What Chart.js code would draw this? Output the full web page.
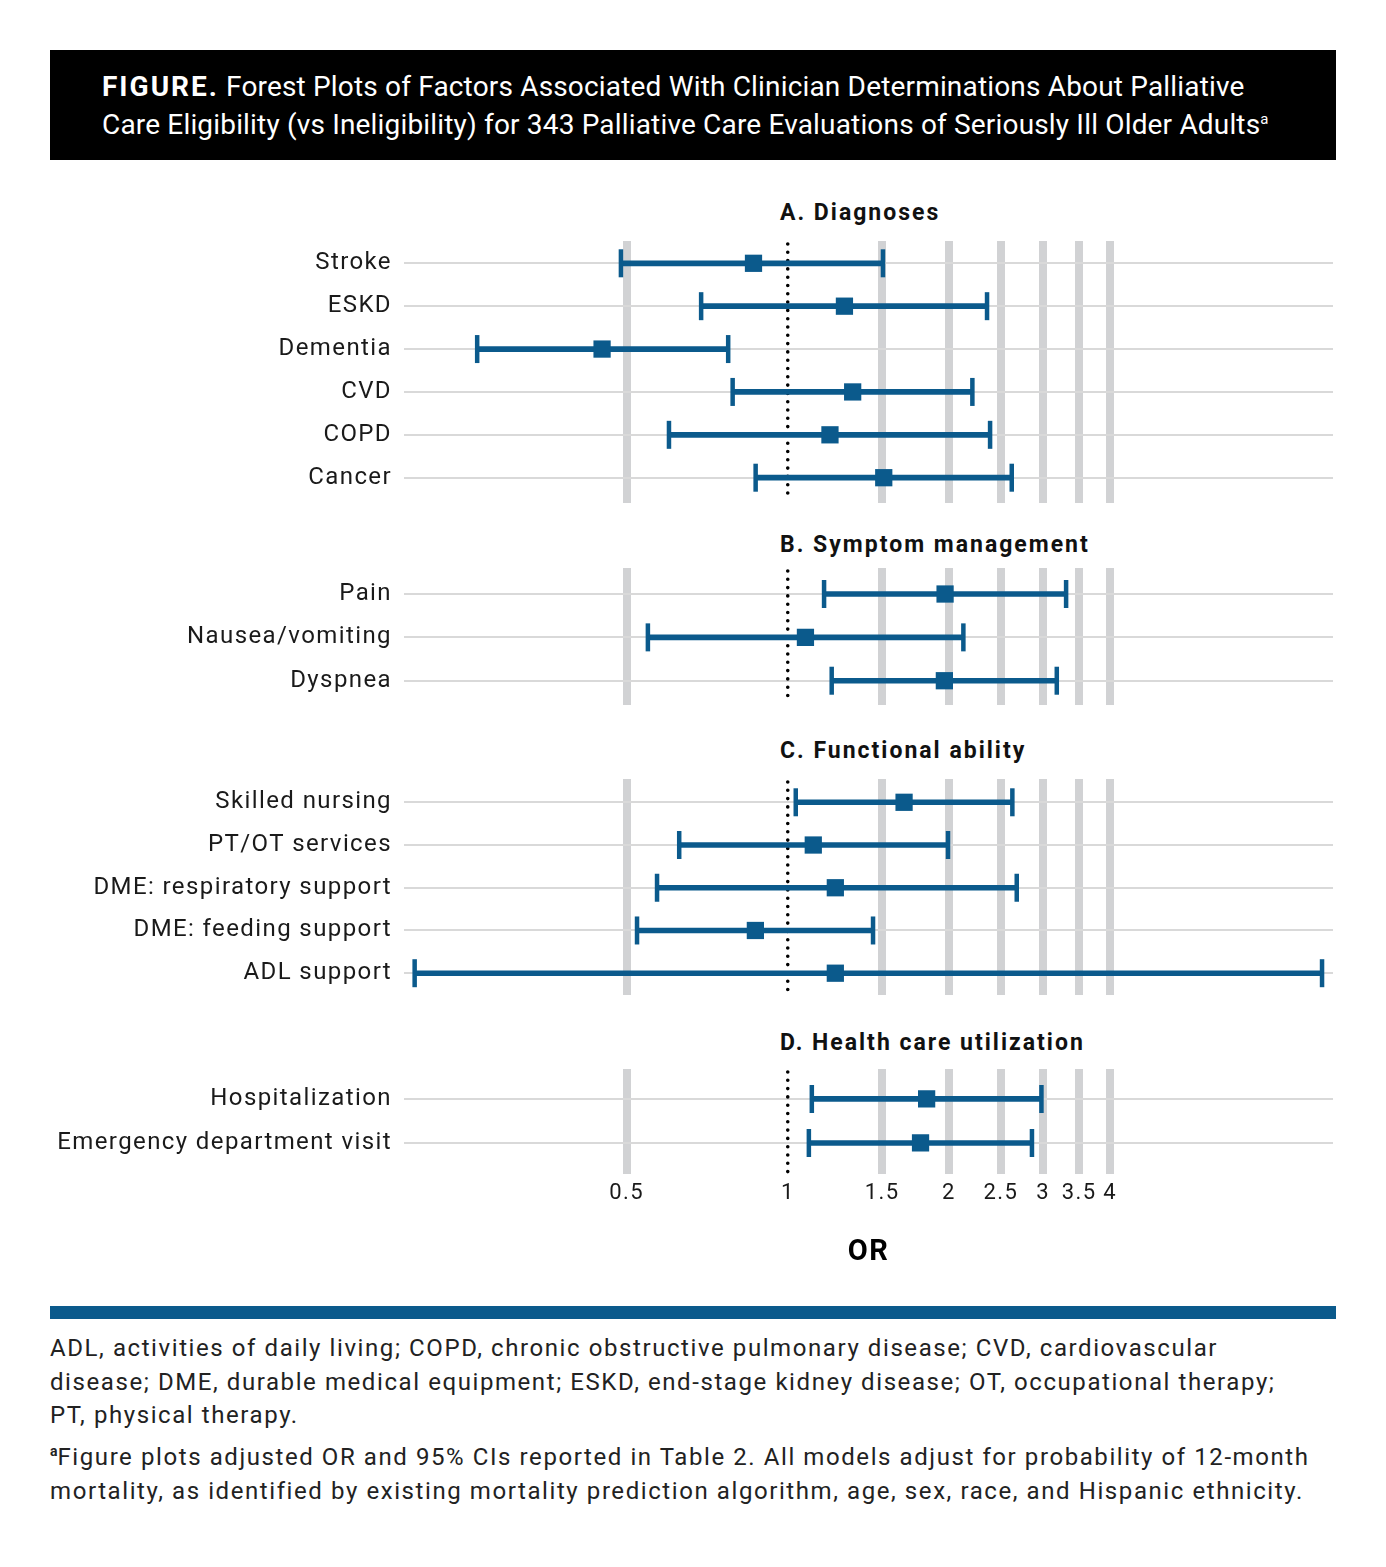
<!DOCTYPE html>
<html lang="en">
<head>
<meta charset="UTF-8">
<title>Forest plots - palliative care eligibility</title>
<script src="https://cdn.jsdelivr.net/npm/chart.js@4.4.4/dist/chart.umd.min.js"></script>
<style>
  body { margin: 0; background: #fff; font-family: Roboto, 'DejaVu Sans', sans-serif; color: #1a1a1a; }
  #page { position: relative; width: 1386px; height: 1567px; overflow: hidden; }
  .header { position: absolute; left: 50px; top: 50px; width: 1286px; height: 110px; background: #000; color: #fff; }
  .header p { margin: 0; position: absolute; left: 52px; font-size: 28px; line-height: 38px; letter-spacing: 0.17px; white-space: nowrap; }
  .header b { letter-spacing: 2px; }
  .header sup { font-size: 15px; vertical-align: 10px; line-height: 0; }
  .panel-title { position: absolute; left: 780px; font-weight: 700; font-size: 23px; line-height: 28px; letter-spacing: 2px; color: #111; }
  .plot { position: absolute; left: 50px; width: 1286px; }
  .rule { position: absolute; left: 50px; top: 1306px; width: 1286px; height: 13px; background: #0b5a8c; }
  .notes { position: absolute; left: 50px; font-size: 24px; line-height: 33.5px; letter-spacing: 1.58px; white-space: nowrap; color: #222; }
  .notes sup { font-size: 14px; vertical-align: 9px; line-height: 0; font-weight: 700; letter-spacing: 0; }
</style>
</head>
<body>
<div id="page">
  <div class="header">
    <p style="top:18px"><b>FIGURE.</b> Forest Plots of Factors Associated With Clinician Determinations About Palliative</p>
    <p style="top:56px">Care Eligibility (vs Ineligibility) for 343 Palliative Care Evaluations of Seriously Ill Older Adults<sup>a</sup></p>
  </div>

  <div class="panel-title" style="top:199px">A. Diagnoses</div>
  <div class="plot" style="top:241px;height:262px"><canvas id="chartA"></canvas></div>

  <div class="panel-title" style="top:531px">B. Symptom management</div>
  <div class="plot" style="top:568px;height:137px"><canvas id="chartB"></canvas></div>

  <div class="panel-title" style="top:737px">C. Functional ability</div>
  <div class="plot" style="top:779px;height:216px"><canvas id="chartC"></canvas></div>

  <div class="panel-title" style="top:1029px">D. Health care utilization</div>
  <div class="plot" style="top:1069px;height:201px"><canvas id="chartD"></canvas></div>

  <div class="rule"></div>
  <div class="notes" style="top:1332px">ADL, activities of daily living; COPD, chronic obstructive pulmonary disease; CVD, cardiovascular<br>disease; DME, durable medical equipment; ESKD, end-stage kidney disease; OT, occupational therapy;<br>PT, physical therapy.</div>
  <div class="notes" style="top:1441px"><sup>a</sup>Figure plots adjusted OR and 95% CIs reported in Table 2. All models adjust for probability of 12-month<br>mortality, as identified by existing mortality prediction algorithm, age, sex, race, and Hispanic ethnicity.</div>
</div>

<script>
  const tickValues = [0.5, 1, 1.5, 2, 2.5, 3, 3.5, 4];

  // A. Diagnoses
  const diagLabels = ['Stroke', 'ESKD', 'Dementia', 'CVD', 'COPD', 'Cancer'];
  const diagOR = [0.863, 1.276, 0.450, 1.322, 1.199, 1.511];
  const diagLow = [0.488, 0.689, 0.263, 0.789, 0.600, 0.871];
  const diagHigh = [1.506, 2.356, 0.774, 2.212, 2.387, 2.620];

  // B. Symptom management
  const symLabels = ['Pain', 'Nausea/vomiting', 'Dyspnea'];
  const symOR = [1.967, 1.079, 1.961];
  const symLow = [1.169, 0.548, 1.208];
  const symHigh = [3.31, 2.128, 3.18];

  // C. Functional ability
  const funcLabels = ['Skilled nursing', 'PT/OT services', 'DME: respiratory support', 'DME: feeding support', 'ADL support'];
  const funcOR = [1.649, 1.116, 1.227, 0.870, 1.227];
  const funcLow = [1.035, 0.627, 0.570, 0.523, 0.201];
  const funcHigh = [2.627, 1.992, 2.677, 1.443, 9.95];

  // D. Health care utilization
  const utilLabels = ['Hospitalization', 'Emergency department visit'];
  const utilOR = [1.817, 1.770];
  const utilLow = [1.109, 1.095];
  const utilHigh = [2.977, 2.858];

  const BLUE = '#0b5a8c';
  const BAR_GRAY = '#d1d2d4';
  const FONT = 'Roboto, "DejaVu Sans", sans-serif';

  // dotted reference line at OR = 1, under the CIs
  const refLine = {
    id: 'refLine',
    beforeDatasetsDraw(chart) {
      const { ctx, chartArea, scales } = chart;
      const x = scales.x.getPixelForValue(1);
      ctx.save();
      ctx.strokeStyle = '#000';
      ctx.lineWidth = 3.6;
      ctx.lineCap = 'round';
      ctx.setLineDash([0, 8.3]);
      ctx.beginPath();
      ctx.moveTo(x, chartArea.top + 3);
      ctx.lineTo(x, chartArea.bottom - 2);
      ctx.stroke();
      ctx.restore();
    }
  };

  // a little tracking on canvas text, like the original typeface
  const tracking = {
    id: 'tracking',
    beforeUpdate(chart) { chart.ctx.letterSpacing = '1.4px'; },
    beforeDraw(chart) { chart.ctx.letterSpacing = '1.4px'; }
  };

  function forest(id, labels, or, low, high, padTop, padBottom, showAxis) {
    const rows = labels.map((_, i) => i);
    return new Chart(document.getElementById(id), {
      type: 'bar',
      data: {
        datasets: [
          {
            type: 'scatter',
            data: rows.map(i => ({ x: or[i], y: i })),
            pointStyle: 'rect',
            pointRadius: 12.2,
            pointBackgroundColor: BLUE,
            pointBorderWidth: 0,
            order: 0
          },
          {
            type: 'scatter',
            data: rows.flatMap(i => [{ x: low[i], y: i }, { x: high[i], y: i }]),
            pointStyle: 'line',
            pointRotation: 90,
            pointRadius: 14,
            pointBorderColor: BLUE,
            pointBorderWidth: 4.5,
            order: 1
          },
          {
            data: rows.map(i => ({ x: [low[i], high[i]], y: i })),
            backgroundColor: BLUE,
            borderWidth: 0,
            barThickness: 5,
            order: 2
          }
        ]
      },
      options: {
        indexAxis: 'y',
        responsive: true,
        maintainAspectRatio: false,
        animation: false,
        events: [],
        layout: { autoPadding: false, padding: { left: 0, right: 3, top: 0, bottom: 0 } },
        plugins: { legend: { display: false }, tooltip: { enabled: false } },
        scales: {
          x: {
            type: 'logarithmic',
            min: 0.192,
            max: 10.43,
            bounds: 'data',
            offset: false,
            afterBuildTicks: s => { s.ticks = tickValues.map(v => ({ value: v })); },
            grid: {
              color: c => (c.tick && c.tick.value === 1) ? 'rgba(0,0,0,0)' : BAR_GRAY,
              lineWidth: 8,
              drawTicks: false,
              offset: false
            },
            border: { display: false },
            ticks: {
              display: showAxis,
              autoSkip: false,
              maxRotation: 0,
              padding: 6,
              color: '#1a1a1a',
              font: { family: FONT, size: 22 },
              callback: v => String(v)
            },
            title: {
              display: showAxis,
              text: 'OR',
              color: '#000',
              font: { family: FONT, size: 29, weight: 'bold' },
              padding: { top: 23, bottom: 0 }
            }
          },
          y: {
            type: 'linear',
            reverse: true,
            min: -padTop,
            max: labels.length - 1 + padBottom,
            bounds: 'data',
            offset: false,
            afterBuildTicks: s => { s.ticks = rows.map(v => ({ value: v })); },
            afterFit: s => { s.width = 354; s.paddingTop = 0; s.paddingBottom = 0; },
            grid: { color: '#d9d9d9', lineWidth: 2, drawTicks: false, offset: false },
            border: { display: false },
            ticks: {
              autoSkip: false,
              padding: 12,
              color: '#1a1a1a',
              font: { family: FONT, size: 24 },
              callback: v => labels[v]
            }
          }
        }
      },
      plugins: [tracking, refLine]
    });
  }

  forest('chartA', diagLabels, diagOR, diagLow, diagHigh, 0.52, 0.59, false);
  forest('chartB', symLabels, symOR, symLow, symHigh, 0.60, 0.56, false);
  forest('chartC', funcLabels, funcOR, funcLow, funcHigh, 0.545, 0.51, false);
  forest('chartD', utilLabels, utilOR, utilLow, utilHigh, 0.68, 0.70, true);
</script>
</body>
</html>
